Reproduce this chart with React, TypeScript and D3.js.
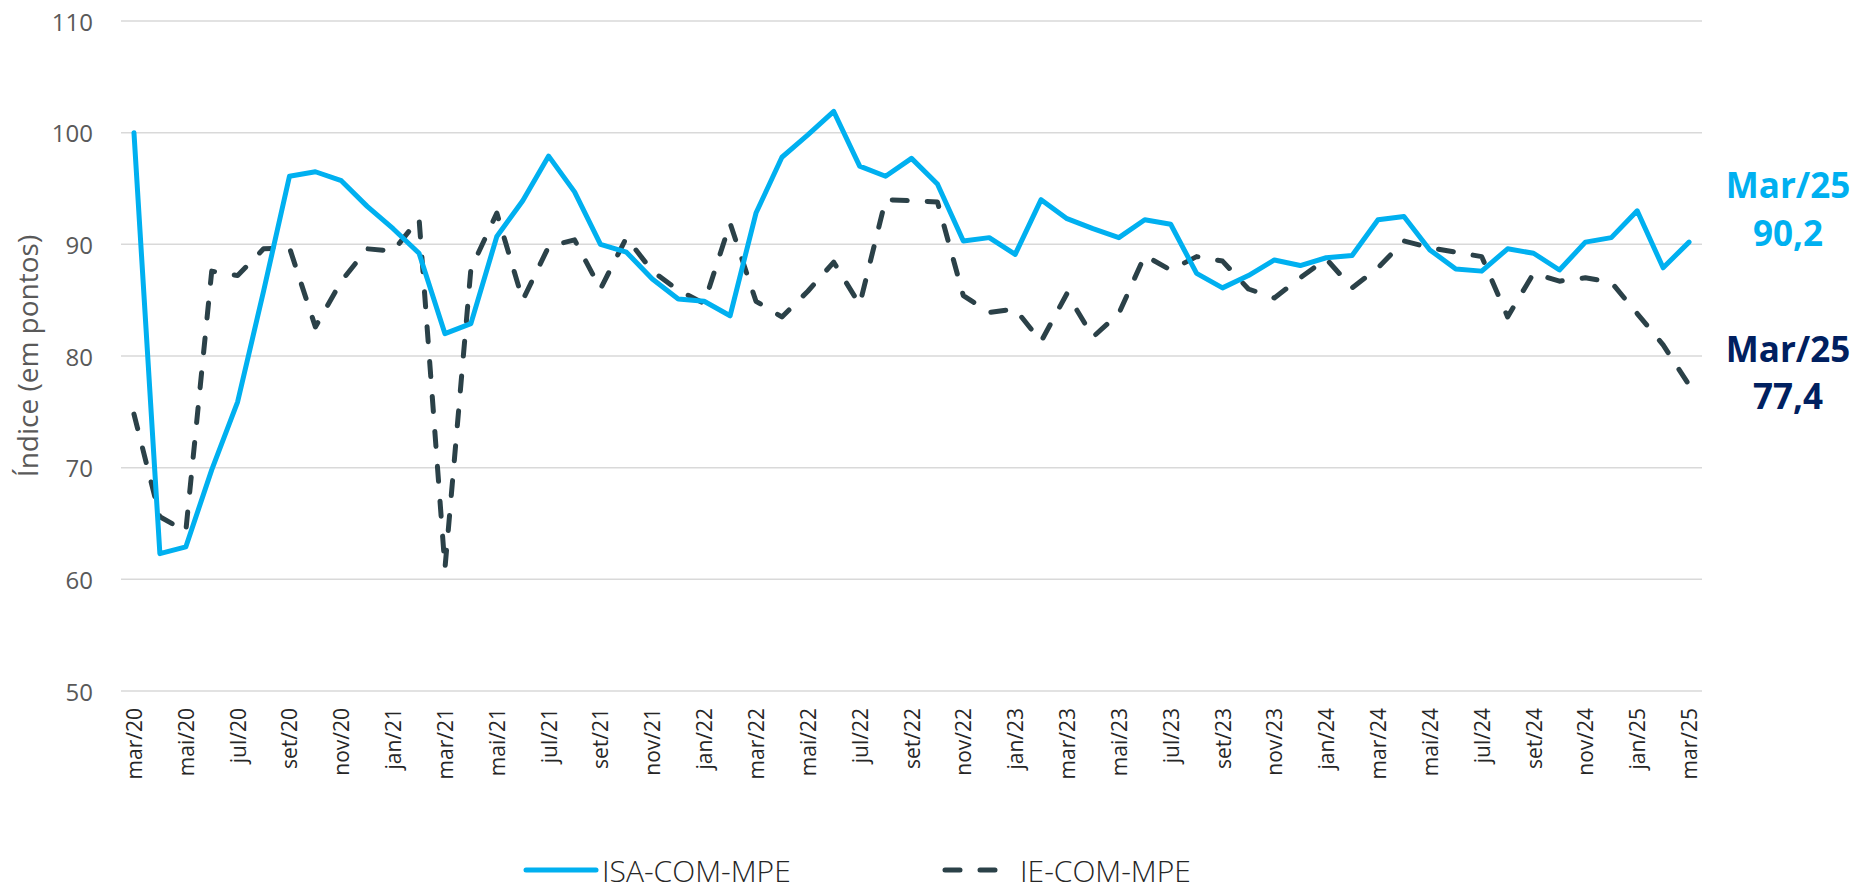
import { scaleLinear, scalePoint, line } from 'd3'

// ISA-COM-MPE vs IE-COM-MPE, monthly index, mar/20 .. mar/25

const MONTH_NAMES = ['jan', 'fev', 'mar', 'abr', 'mai', 'jun', 'jul', 'ago', 'set', 'out', 'nov', 'dez']

// 61 months starting mar/2020
const months: string[] = Array.from({ length: 61 }, (_, i) => {
  const m = (2 + i) % 12
  const y = 20 + Math.floor((2 + i) / 12)
  return `${MONTH_NAMES[m]}/${y}`
})

const isa = [
  100, 62.3, 62.9, 69.8, 75.9, 85.8, 96.1, 96.5, 95.7, 93.4, 91.4, 89.2,
  82.0, 82.9, 90.7, 93.9, 97.9, 94.7, 90.0, 89.3, 86.9, 85.1, 84.9, 83.6,
  92.8, 97.8, 99.8, 101.9, 97.0, 96.1, 97.7, 95.4, 90.3, 90.6, 89.1, 94.0,
  92.3, 91.4, 90.6, 92.2, 91.8, 87.4, 86.1, 87.2, 88.6, 88.1, 88.8, 89.0,
  92.2, 92.5, 89.5, 87.8, 87.6, 89.6, 89.2, 87.7, 90.2, 90.6, 93.0, 87.9,
  90.2,
]

const ie = [
  74.8, 65.6, 64.3, 87.6, 87.2, 89.6, 89.7, 82.6, 86.7, 89.6, 89.4, 92.3,
  61.0, 87.8, 92.8, 85.0, 89.8, 90.4, 86.0, 90.6, 87.6, 85.9, 84.7, 91.9,
  84.9, 83.5, 85.8, 88.4, 84.6, 94.0, 93.9, 93.8, 85.4, 83.9, 84.2, 81.3,
  85.6, 81.7, 83.8, 89.0, 87.7, 88.9, 88.5, 86.0, 85.2, 87.0, 88.7, 86.1,
  87.9, 90.3, 89.7, 89.3, 88.9, 83.5, 87.4, 86.7, 87.0, 86.6, 83.8, 81.0,
  77.4,
]

const yTicks = [50, 60, 70, 80, 90, 100, 110]

const BLUE = '#00B0F0'
const DARK = '#2B4148'
const NAVY = '#002060'
const GRID = '#D9D9D9'
const TICK = '#595959'
const DASH = '15 20'

export default function App() {
  const width = 1861
  const height = 889
  const x = scalePoint<string>().domain(months).range([121, 1702]).padding(0.5)
  const y = scaleLinear().domain([50, 110]).range([691, 21])
  const mk = line<number>()
    .x((_, i) => x(months[i]) ?? 0)
    .y((d) => y(d))

  const fmt = (v: number) => v.toFixed(1).replace('.', ',')

  return (
    <svg
      width={width}
      height={height}
      viewBox={`0 0 ${width} ${height}`}
      style={{ position: 'absolute', left: 0, top: 0, background: '#fff' }}
    >
      {yTicks.map((t) => (
        <g key={t}>
          <line x1={121} x2={1702} y1={y(t)} y2={y(t)} stroke={GRID} strokeWidth={1.5} />
          <text
            x={93}
            y={y(t)}
            textAnchor="end"
            dominantBaseline="central"
            fill={TICK}
            fontSize={24}
            fontFamily="'Open Sans', sans-serif"
          >
            {t}
          </text>
        </g>
      ))}
      <text
        transform={`translate(27, 356) rotate(-90)`}
        textAnchor="middle"
        dominantBaseline="central"
        fill={TICK}
        fontSize={28}
        fontFamily="'Liberation Sans Narrow', 'Open Sans', sans-serif"
      >
        Índice (em pontos)
      </text>

      {months.map((m, i) =>
        i % 2 === 0 ? (
          <text
            key={m}
            transform={`translate(${x(m)}, 708) rotate(-90)`}
            textAnchor="end"
            dominantBaseline="central"
            fill="#262626"
            fontSize={21}
            fontFamily="'Open Sans', sans-serif"
          >
            {m}
          </text>
        ) : null
      )}

      <path d={mk(ie) ?? ''} fill="none" stroke={DARK} strokeWidth={5} strokeDasharray={DASH} strokeLinecap="round" strokeLinejoin="round" />
      <path d={mk(isa) ?? ''} fill="none" stroke={BLUE} strokeWidth={5} strokeLinejoin="round" strokeLinecap="round" />

      <g fontFamily="'Open Sans', sans-serif" fontWeight={700} fontSize={35} textAnchor="middle">
        <text x={1788} y={198} fill={BLUE}>Mar/25</text>
        <text x={1788} y={246} fill={BLUE}>{fmt(isa[isa.length - 1])}</text>
        <text x={1788} y={362} fill={NAVY}>Mar/25</text>
        <text x={1788} y={409} fill={NAVY}>{fmt(ie[ie.length - 1])}</text>
      </g>

      <g fontFamily="'Open Sans', sans-serif" fontWeight={300} fontSize={30} fill="#262626">
        <line x1={526} x2={596} y1={870} y2={870} stroke={BLUE} strokeWidth={5} strokeLinecap="round" />
        <text x={602} y={870} dominantBaseline="central">ISA-COM-MPE</text>
        <line x1={945} x2={1008} y1={870} y2={870} stroke={DARK} strokeWidth={5} strokeDasharray={DASH} strokeLinecap="round" />
        <text x={1020} y={870} dominantBaseline="central">IE-COM-MPE</text>
      </g>
    </svg>
  )
}
